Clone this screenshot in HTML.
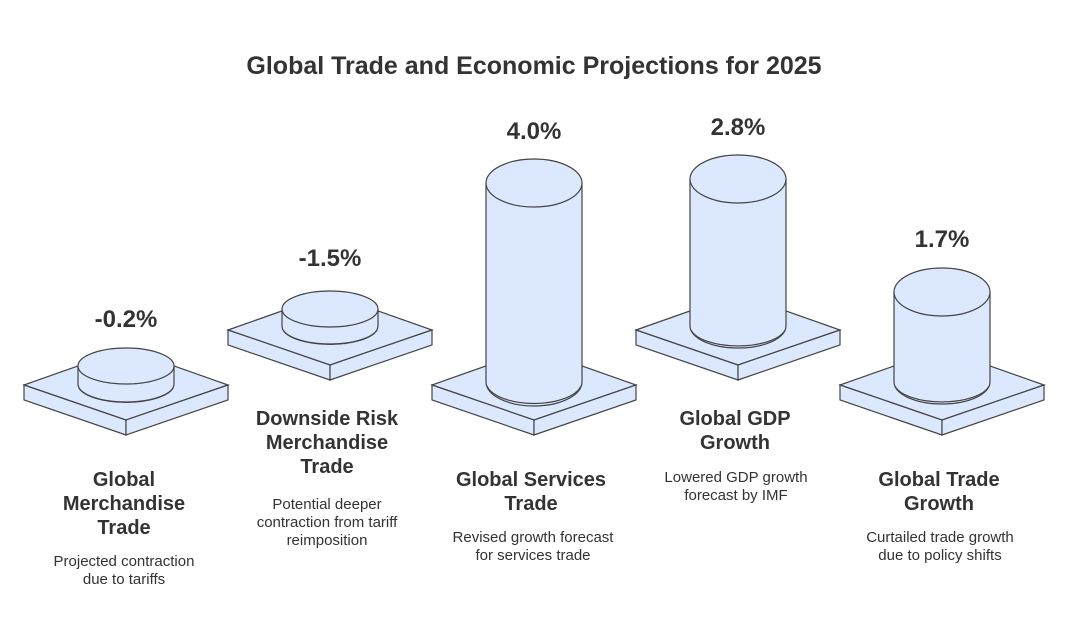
<!DOCTYPE html>
<html><head><style>body{margin:0;background:#fff}svg{display:block}</style></head><body>
<svg width="1068" height="624" viewBox="0 0 1068 624" xmlns="http://www.w3.org/2000/svg" font-family="Liberation Sans, Arial, sans-serif">
<defs>
<g id="plate">
<polygon points="-102,0 0,-36 102,0 0,35" fill="#dbe8fe" stroke="#444" stroke-width="1.2"/>
<polygon points="-102,0 0,35 0,50 -102,15" fill="#dbe8fe" stroke="#444" stroke-width="1.2"/>
<polygon points="102,0 0,35 0,50 102,15" fill="#dbe8fe" stroke="#444" stroke-width="1.2"/>
</g>
</defs>
<g fill="#333" text-anchor="middle">
<text x="534" y="74" font-size="25" font-weight="bold">Global Trade and Economic Projections for 2025</text>
</g>
<g stroke="#444" stroke-width="1.2" fill="#dbe8fe">
<use href="#plate" x="126" y="385"/>
<path d="M78,366 L78,384 A48,18 0 0 0 174,384 L174,366" />
<path d="M79,388 A48,18 0 0 0 173,388" fill="none"/>
<ellipse cx="126" cy="366" rx="48" ry="18"/>
<use href="#plate" x="330" y="330"/>
<path d="M282,309 L282,326 A48,18 0 0 0 378,326 L378,309"/>
<path d="M283,330 A48,18 0 0 0 377,330" fill="none"/>
<ellipse cx="330" cy="309" rx="48" ry="18"/>
<use href="#plate" x="534" y="385"/>
<path d="M486,183 L486,382 A48,24 0 0 0 582,382 L582,183"/>
<path d="M487,386 A48,22 0 0 0 581,386" fill="none"/>
<ellipse cx="534" cy="183" rx="48" ry="24"/>
<use href="#plate" x="738" y="330"/>
<path d="M690,179 L690,326 A48,22 0 0 0 786,326 L786,179"/>
<path d="M691,330 A48,20 0 0 0 785,330" fill="none"/>
<ellipse cx="738" cy="179" rx="48" ry="24"/>
<use href="#plate" x="942" y="385"/>
<path d="M894,292 L894,382 A48,22 0 0 0 990,382 L990,292"/>
<path d="M895,386 A48,20 0 0 0 989,386" fill="none"/>
<ellipse cx="942" cy="292" rx="48" ry="24"/>
</g>
<g fill="#333" text-anchor="middle" font-weight="bold" font-size="24">
<text x="126" y="327">-0.2%</text>
<text x="330" y="266">-1.5%</text>
<text x="534" y="139">4.0%</text>
<text x="738" y="135">2.8%</text>
<text x="942" y="247">1.7%</text>
</g>
<g fill="#333" text-anchor="middle" font-weight="bold" font-size="20">
<text x="124" y="486">Global</text><text x="124" y="510">Merchandise</text><text x="124" y="534">Trade</text>
<text x="327" y="425">Downside Risk</text><text x="327" y="449">Merchandise</text><text x="327" y="473">Trade</text>
<text x="531" y="486">Global Services</text><text x="531" y="510">Trade</text>
<text x="735" y="425">Global GDP</text><text x="735" y="449">Growth</text>
<text x="939" y="486">Global Trade</text><text x="939" y="510">Growth</text>
</g>
<g fill="#333" text-anchor="middle" font-size="15">
<text x="124" y="566">Projected contraction</text><text x="124" y="584">due to tariffs</text>
<text x="327" y="509">Potential deeper</text><text x="327" y="527">contraction from tariff</text><text x="327" y="545">reimposition</text>
<text x="533" y="542">Revised growth forecast</text><text x="533" y="560">for services trade</text>
<text x="736" y="482">Lowered GDP growth</text><text x="736" y="500">forecast by IMF</text>
<text x="940" y="542">Curtailed trade growth</text><text x="940" y="560">due to policy shifts</text>
</g>
</svg>
</body></html>
